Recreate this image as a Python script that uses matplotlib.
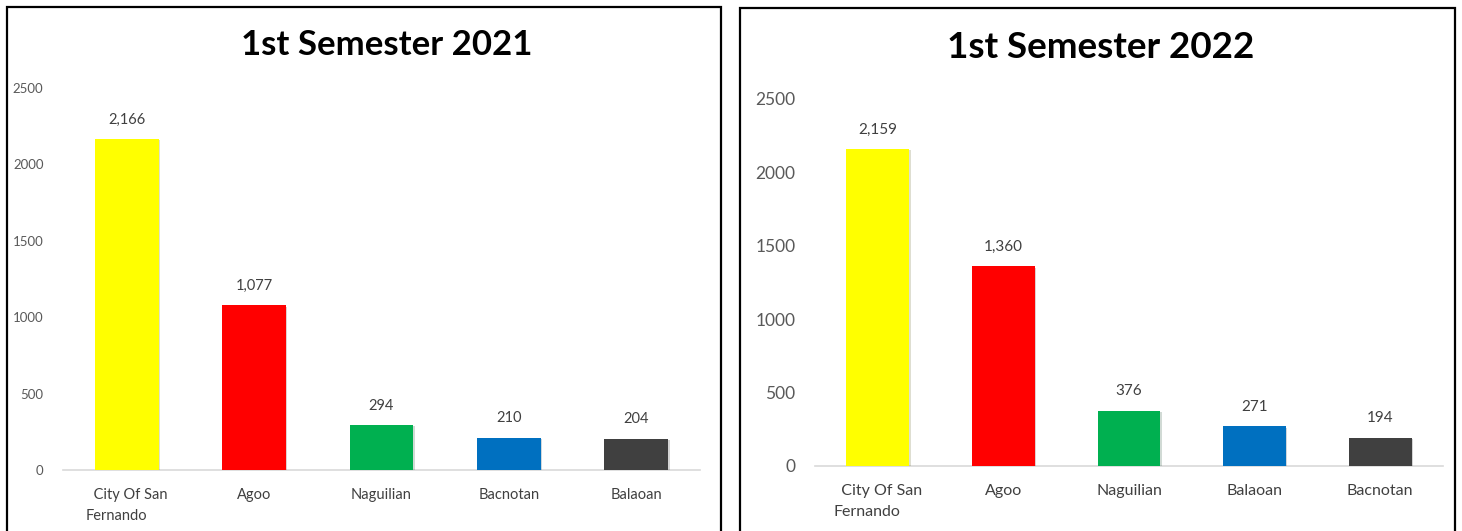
import matplotlib
matplotlib.use("Agg")
import matplotlib.pyplot as plt
from matplotlib.patches import Rectangle
import matplotlib.patheffects as pe

plt.rcParams['font.family'] = ['Lato', 'DejaVu Sans']

# data
cats_2021 = ["  City Of San\nFernando", "Agoo", "Naguilian", "Bacnotan", "Balaoan"]
vals_2021 = [2166, 1077, 294, 210, 204]
cats_2022 = ["  City Of San\nFernando", "Agoo", "Naguilian", "Balaoan", "Bacnotan"]
vals_2022 = [2159, 1360, 376, 271, 194]
colors = ["#FFFF00", "#FF0000", "#00B050", "#0070C0", "#404040"]
yticks = [0, 500, 1000, 1500, 2000, 2500]

W, H = 1462, 531
fig = plt.figure(figsize=(W / 100, H / 100), dpi=100)


def px_axes(x0, y_top, x1, y_bot):
    return fig.add_axes([x0 / W, (H - y_bot) / H, (x1 - x0) / W, (y_bot - y_top) / H])


def draw_panel(ax, cats, vals, title, title_xy, tick_fs, cat_fs, lab_fs, title_fs):
    x = range(len(cats))
    bars = ax.bar(x, vals, width=0.5, color=colors, zorder=3)
    for b in bars:
        b.set_path_effects([pe.SimplePatchShadow(offset=(1, -1), alpha=0.18), pe.Normal()])
    for xi, v in zip(x, vals):
        ax.annotate(f"{v:,}", (xi, v), xytext=(0, 14), textcoords="offset points",
                    ha="center", va="center", fontsize=lab_fs, color="#404040")
    ax.set_xlim(-0.5, len(cats) - 0.5)
    ax.set_ylim(0, 2500)
    ax.set_yticks(yticks)
    ax.set_yticklabels([str(t) for t in yticks])
    ax.set_xticks(list(x))
    ax.set_xticklabels(cats, multialignment="left", linespacing=1.6)
    ax.tick_params(axis="y", length=0, labelsize=tick_fs, labelcolor="#595959", pad=14)
    ax.tick_params(axis="x", length=0, labelsize=cat_fs, labelcolor="#404040", pad=13)
    for s in ["top", "right", "left"]:
        ax.spines[s].set_visible(False)
    ax.spines["bottom"].set_color("#D9D9D9")
    ax.spines["bottom"].set_linewidth(1.2)
    fig.text(title_xy[0] / W, 1 - title_xy[1] / H, title, ha="center", va="center",
             fontsize=title_fs, fontweight="bold", color="black")


ax1 = px_axes(63, 88, 700, 470)
draw_panel(ax1, cats_2021, vals_2021, "1st Semester 2021", (387, 45), 9.5, 10.5, 10.5, 25)

ax2 = px_axes(815, 99, 1443, 466)
draw_panel(ax2, cats_2022, vals_2022, "1st Semester 2022", (1101, 47), 12.5, 11.5, 11, 26.5)

# panel borders
for x0, x1, y0 in [(7, 721, 7), (740, 1455, 8)]:
    fig.patches.append(Rectangle((x0 / W, -0.05), (x1 - x0) / W, 1.05 - y0 / H,
                                 transform=fig.transFigure, fill=False,
                                 edgecolor="black", linewidth=1.6))

fig.savefig("out.png", dpi=100)
